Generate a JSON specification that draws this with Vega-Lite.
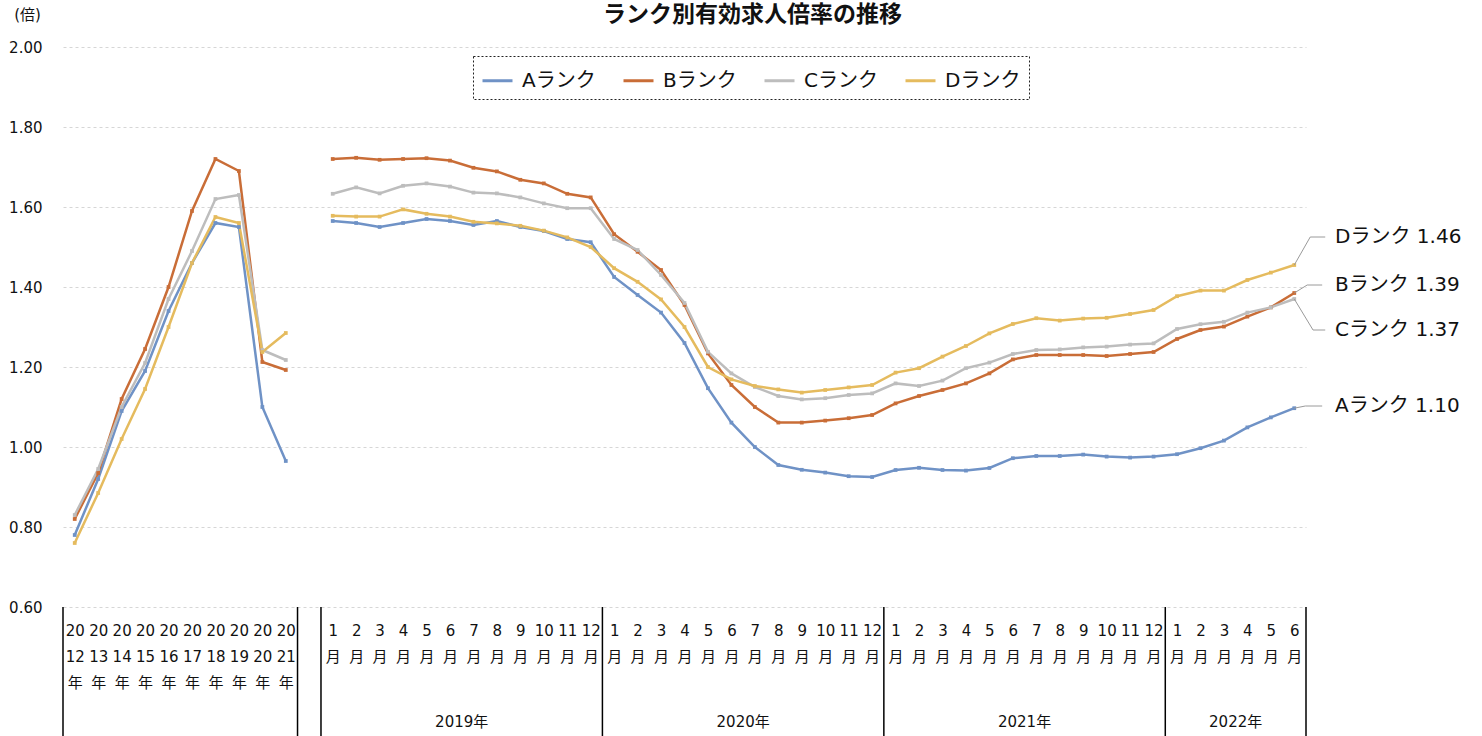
{
  "$schema": "https://vega.github.io/schema/vega-lite/v6.json",
  "width": 1243,
  "height": 689,
  "autosize": {"type": "none"},
  "padding": {"left": 63, "top": 47, "right": 176, "bottom": 0},
  "background": "white",
  "config": {
    "view": {"stroke": null},
    "font": "DejaVu Sans, Noto Sans CJK JP",
    "text": {"font": "DejaVu Sans, Noto Sans CJK JP"},
    "legend": {"strokeDash": [2, 2]}
  },
  "title": {
    "text": "ランク別有効求人倍率の推移",
    "font": "Noto Sans CJK JP",
    "fontSize": 23,
    "fontWeight": "bold",
    "color": "#111111",
    "anchor": "middle",
    "frame": "group",
    "dx": 68,
    "dy": 20,
    "offset": 0
  },
  "datasets": {
    "rank": [
      {"i": 0, "s": "a", "A": 0.78, "B": 0.82, "C": 0.83, "D": 0.76},
      {"i": 1, "s": "a", "A": 0.92, "B": 0.935, "C": 0.945, "D": 0.885},
      {"i": 2, "s": "a", "A": 1.09, "B": 1.12, "C": 1.10, "D": 1.02},
      {"i": 3, "s": "a", "A": 1.19, "B": 1.245, "C": 1.21, "D": 1.145},
      {"i": 4, "s": "a", "A": 1.34, "B": 1.40, "C": 1.37, "D": 1.30},
      {"i": 5, "s": "a", "A": 1.46, "B": 1.59, "C": 1.49, "D": 1.46},
      {"i": 6, "s": "a", "A": 1.56, "B": 1.72, "C": 1.62, "D": 1.575},
      {"i": 7, "s": "a", "A": 1.55, "B": 1.69, "C": 1.63, "D": 1.56},
      {"i": 8, "s": "a", "A": 1.10, "B": 1.2125, "C": 1.2425, "D": 1.2375},
      {"i": 9, "s": "a", "A": 0.965, "B": 1.1925, "C": 1.2175, "D": 1.285},
      {"i": 11, "s": "m", "A": 1.565, "B": 1.72, "C": 1.633, "D": 1.578},
      {"i": 12, "s": "m", "A": 1.56, "B": 1.723, "C": 1.649, "D": 1.576},
      {"i": 13, "s": "m", "A": 1.55, "B": 1.718, "C": 1.634, "D": 1.576},
      {"i": 14, "s": "m", "A": 1.56, "B": 1.72, "C": 1.653, "D": 1.594},
      {"i": 15, "s": "m", "A": 1.57, "B": 1.722, "C": 1.659, "D": 1.583},
      {"i": 16, "s": "m", "A": 1.565, "B": 1.716, "C": 1.651, "D": 1.576},
      {"i": 17, "s": "m", "A": 1.555, "B": 1.698, "C": 1.636, "D": 1.563},
      {"i": 18, "s": "m", "A": 1.565, "B": 1.689, "C": 1.634, "D": 1.559},
      {"i": 19, "s": "m", "A": 1.55, "B": 1.668, "C": 1.624, "D": 1.553},
      {"i": 20, "s": "m", "A": 1.54, "B": 1.659, "C": 1.609, "D": 1.541},
      {"i": 21, "s": "m", "A": 1.52, "B": 1.633, "C": 1.597, "D": 1.524},
      {"i": 22, "s": "m", "A": 1.512, "B": 1.624, "C": 1.597, "D": 1.50},
      {"i": 23, "s": "m", "A": 1.425, "B": 1.532, "C": 1.52, "D": 1.447},
      {"i": 24, "s": "m", "A": 1.38, "B": 1.488, "C": 1.4925, "D": 1.413},
      {"i": 25, "s": "m", "A": 1.336, "B": 1.4425, "C": 1.43, "D": 1.369},
      {"i": 26, "s": "m", "A": 1.26, "B": 1.355, "C": 1.36, "D": 1.30},
      {"i": 27, "s": "m", "A": 1.147, "B": 1.234, "C": 1.238, "D": 1.20},
      {"i": 28, "s": "m", "A": 1.061, "B": 1.155, "C": 1.184, "D": 1.169},
      {"i": 29, "s": "m", "A": 1.00, "B": 1.10, "C": 1.15, "D": 1.1525},
      {"i": 30, "s": "m", "A": 0.955, "B": 1.061, "C": 1.1275, "D": 1.144},
      {"i": 31, "s": "m", "A": 0.943, "B": 1.061, "C": 1.119, "D": 1.136},
      {"i": 32, "s": "m", "A": 0.936, "B": 1.066, "C": 1.122, "D": 1.1425},
      {"i": 33, "s": "m", "A": 0.927, "B": 1.072, "C": 1.13, "D": 1.149},
      {"i": 34, "s": "m", "A": 0.925, "B": 1.08, "C": 1.134, "D": 1.155},
      {"i": 35, "s": "m", "A": 0.9425, "B": 1.109, "C": 1.159, "D": 1.186},
      {"i": 36, "s": "m", "A": 0.948, "B": 1.1275, "C": 1.1525, "D": 1.197},
      {"i": 37, "s": "m", "A": 0.9425, "B": 1.1425, "C": 1.166, "D": 1.226},
      {"i": 38, "s": "m", "A": 0.941, "B": 1.159, "C": 1.197, "D": 1.2525},
      {"i": 39, "s": "m", "A": 0.9475, "B": 1.184, "C": 1.211, "D": 1.284},
      {"i": 40, "s": "m", "A": 0.972, "B": 1.219, "C": 1.2325, "D": 1.3075},
      {"i": 41, "s": "m", "A": 0.9775, "B": 1.23, "C": 1.2425, "D": 1.322},
      {"i": 42, "s": "m", "A": 0.9775, "B": 1.23, "C": 1.244, "D": 1.316},
      {"i": 43, "s": "m", "A": 0.981, "B": 1.23, "C": 1.249, "D": 1.321},
      {"i": 44, "s": "m", "A": 0.976, "B": 1.2275, "C": 1.251, "D": 1.323},
      {"i": 45, "s": "m", "A": 0.9735, "B": 1.2325, "C": 1.256, "D": 1.3325},
      {"i": 46, "s": "m", "A": 0.976, "B": 1.2375, "C": 1.259, "D": 1.3425},
      {"i": 47, "s": "m", "A": 0.982, "B": 1.27, "C": 1.295, "D": 1.377},
      {"i": 48, "s": "m", "A": 0.997, "B": 1.2925, "C": 1.307, "D": 1.391},
      {"i": 49, "s": "m", "A": 1.016, "B": 1.301, "C": 1.313, "D": 1.391},
      {"i": 50, "s": "m", "A": 1.049, "B": 1.326, "C": 1.336, "D": 1.4175},
      {"i": 51, "s": "m", "A": 1.074, "B": 1.349, "C": 1.349, "D": 1.436},
      {"i": 52, "s": "m", "A": 1.097, "B": 1.385, "C": 1.37, "D": 1.455}
    ],
    "seps": [
      {"i": -0.5, "v": 0.6, "v2": 0.2775},
      {"i": 9.5, "v": 0.6, "v2": 0.2775},
      {"i": 10.5, "v": 0.6, "v2": 0.2775},
      {"i": 22.5, "v": 0.6, "v2": 0.2775},
      {"i": 34.5, "v": 0.6, "v2": 0.2775},
      {"i": 46.5, "v": 0.6, "v2": 0.2775},
      {"i": 52.5, "v": 0.6, "v2": 0.2775}
    ],
    "years": [
      {"i": 16.5, "v": 0.3125, "t": "2019年"},
      {"i": 28.5, "v": 0.3125, "t": "2020年"},
      {"i": 40.5, "v": 0.3125, "t": "2021年"},
      {"i": 49.5, "v": 0.3125, "t": "2022年"}
    ],
    "ends": [
      {"i": 53.74, "v": 1.525, "t": "Dランク 1.46"},
      {"i": 53.74, "v": 1.405, "t": "Bランク 1.39"},
      {"i": 53.74, "v": 1.2925, "t": "Cランク 1.37"},
      {"i": 53.74, "v": 1.1025, "t": "Aランク 1.10"}
    ],
    "leads": [
      {"g": "D", "o": 1, "i": 52, "v": 1.455},
      {"g": "D", "o": 2, "i": 52.68, "v": 1.525},
      {"g": "D", "o": 3, "i": 53.32, "v": 1.525},
      {"g": "B", "o": 1, "i": 52, "v": 1.385},
      {"g": "B", "o": 2, "i": 52.55, "v": 1.405},
      {"g": "B", "o": 3, "i": 53.19, "v": 1.405},
      {"g": "C", "o": 1, "i": 52, "v": 1.37},
      {"g": "C", "o": 2, "i": 52.8, "v": 1.2925},
      {"g": "C", "o": 3, "i": 53.32, "v": 1.2925},
      {"g": "A", "o": 1, "i": 52, "v": 1.097},
      {"g": "A", "o": 2, "i": 52.47, "v": 1.1025},
      {"g": "A", "o": 3, "i": 53.19, "v": 1.1025}
    ],
    "base": [{"i": -0.5}, {"i": 52.5}]
  },
  "encoding": {
    "x": {
      "field": "i",
      "type": "quantitative",
      "scale": {"domain": [-0.5, 52.5], "nice": false, "zero": false},
      "axis": {
        "title": null,
        "offset": -129,
        "values": [0, 1, 2, 3, 4, 5, 6, 7, 8, 9, 11, 12, 13, 14, 15, 16, 17, 18, 19, 20, 21, 22, 23, 24, 25, 26, 27, 28, 29, 30, 31, 32, 33, 34, 35, 36, 37, 38, 39, 40, 41, 42, 43, 44, 45, 46, 47, 48, 49, 50, 51, 52],
        "labelExpr": "datum.value < 10 ? ['20', '' + (12 + datum.value), '年'] : ['' + ((datum.value - 11) % 12 + 1), '月']",
        "grid": false,
        "domain": false,
        "ticks": false,
        "labelPadding": 16,
        "labelFontSize": 15,
        "labelLineHeight": 26,
        "labelBaseline": "top",
        "labelColor": "#111111",
        "labelOverlap": false,
        "labelFlush": false,
        "labelBound": false
      }
    },
    "y": {
      "field": "v",
      "type": "quantitative",
      "scale": {"domain": [0.2775, 2.0], "nice": false, "zero": false},
      "axis": {
        "title": "(倍)",
        "titleAngle": 0,
        "titleX": -36,
        "titleY": -33,
        "titleAlign": "center",
        "titleBaseline": "middle",
        "titleFontWeight": "normal",
        "titleFontSize": 15,
        "titleColor": "#111111",
        "values": [0.6, 0.8, 1.0, 1.2, 1.4, 1.6, 1.8, 2.0],
        "format": ".2f",
        "grid": true,
        "gridColor": "#d6d6d6",
        "gridDash": [3, 3],
        "domain": false,
        "ticks": false,
        "labelPadding": 21,
        "labelFontSize": 15,
        "labelColor": "#111111"
      }
    }
  },
  "layer": [
    {
      "data": {"name": "base"},
      "mark": {"type": "line", "color": "#000000", "strokeWidth": 2},
      "encoding": {"y": {"datum": 1}}
    },
    {
      "data": {"name": "seps"},
      "mark": {"type": "rule", "color": "#000000", "strokeWidth": 1.5},
      "encoding": {"y2": {"field": "v2"}}
    },
    {
      "data": {"name": "years"},
      "mark": {"type": "text", "fontSize": 15, "color": "#111111", "baseline": "middle", "align": "center"},
      "encoding": {"text": {"field": "t"}}
    },
    {
      "data": {"name": "rank"},
      "transform": [{"fold": ["A", "B", "C", "D"], "as": ["r", "v"]}],
      "mark": {"type": "line", "strokeWidth": 2.5, "point": {"filled": true, "shape": "square", "size": 14}},
      "encoding": {
        "detail": {"field": "s"},
        "color": {
          "field": "r",
          "type": "nominal",
          "scale": {"domain": ["A", "B", "C", "D"], "range": ["#6f92c6", "#c96d37", "#bdbdbd", "#e5bb5e"]},
          "legend": {
            "orient": "none",
            "legendX": 410,
            "legendY": 9,
            "direction": "horizontal",
            "columns": 4,
            "title": null,
            "labelExpr": "datum.label + 'ランク'",
            "labelFontSize": 20,
            "labelColor": "#111111",
            "labelOffset": 8,
            "symbolType": "stroke",
            "symbolSize": 900,
            "symbolStrokeWidth": 3,
            "columnPadding": 21,
            "padding": 8,
            "strokeColor": "#222222"
          }
        }
      }
    },
    {
      "data": {"name": "leads"},
      "mark": {"type": "line", "color": "#9a9a9a", "strokeWidth": 1},
      "encoding": {"detail": {"field": "g"}, "order": {"field": "o"}}
    },
    {
      "data": {"name": "ends"},
      "mark": {"type": "text", "fontSize": 20, "color": "#111111", "align": "left", "baseline": "middle"},
      "encoding": {"text": {"field": "t"}}
    }
  ]
}
